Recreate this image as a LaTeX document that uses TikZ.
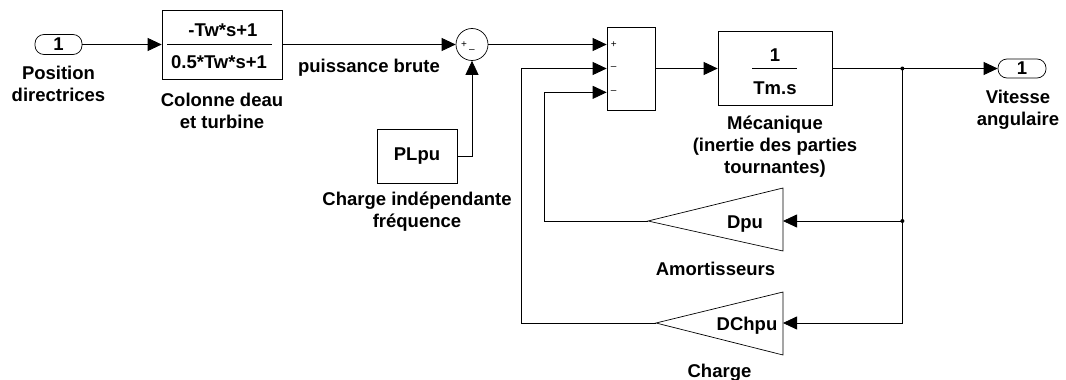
\documentclass[tikz,border=0pt]{standalone}
\usepackage{fontspec}
\setmainfont{Liberation Sans}
\usetikzlibrary{positioning,arrows.meta,calc}
\newcommand{\bfont}{\fontsize{18.5}{22}\selectfont\bfseries}
\newcommand{\lowone}{\raisebox{-3pt}{1}}
\tikzset{
  block/.style={draw, line width=0.7pt, inner sep=0pt, font=\bfont},
  port/.style={draw, rounded corners=9pt, line width=0.7pt, minimum width=47pt, minimum height=20pt, inner sep=0pt, font=\bfont},
  lbl/.style={align=center, inner sep=0pt, font=\bfont},
  sgn/.style={inner sep=0pt, font=\fontsize{10}{10}\selectfont},
  sig/.style={-{Triangle[length=14pt,width=13pt]}, line width=0.8pt},
  wire/.style={line width=0.8pt},
}

\begin{document}
\begin{tikzpicture}[x=1pt, y=1pt]
    \useasboundingbox (0,0) rectangle (1066,-380);
    % forward path
    \node[port] (in1) at (58.5,-44.5) {\lowone};
    \node[lbl, below=11pt of in1] (in1lbl) {Position\\directrices};
    \node[block, minimum width=120pt, minimum height=69pt] (tf) at (222,-44.5) {};
    \node[lbl] (tfnum) at ($(tf.center)+(1,14.5)$) {-Tw*s+1};
    \node[lbl] (tfden) at ($(tf.center)+(-3,-17.5)$) {0.5*Tw*s+1};
    \draw[line width=0.7pt] ($(tf.center)+(-55,0.5)$) -- ($(tf.center)+(50,0.5)$);
    \node[lbl, below=14pt of tf] (tflbl) {Colonne deau\\et turbine};
    \node[circle, draw, line width=0.7pt, minimum size=32pt, inner sep=0pt] (sum1) at (472,-44.5) {};
    \node[sgn] at ($(sum1.center)+(-8,-0.5)$) {+};
    \node[sgn] at ($(sum1.center)+(0,-7)$) {–};
    \node[lbl, below=14pt of $(tf.east)!0.5!(sum1.west)$] (pblbl) {puissance brute};
    \node[block, minimum width=80pt, minimum height=54pt] (pl) at (417,-156) {PLpu};
    \node[lbl, below=8pt of pl] (pllbl) {Charge indépendante\\fréquence};
    \node[block, minimum width=48pt, minimum height=83pt] (sum2) at (631,-68.5) {};
    \coordinate (s2a) at (sum1.east -| sum2.west);
    \coordinate (s2b) at (sum2.west);
    \coordinate (s2c) at ($(sum2.north west)!0.785!(sum2.south west)$);
    \node[sgn, right=4pt of s2a] {+};
    \node[sgn, right=4pt of s2b] {–};
    \node[sgn, right=4pt of s2c] {–};
    \node[block, minimum width=114pt, minimum height=74pt] (tm) at (775,-68.5) {};
    \node[lbl] (tmnum) at ($(tm.center)+(0,13.5)$) {1};
    \node[lbl] (tmden) at ($(tm.center)+(0,-19.5)$) {Tm.s};
    \draw[line width=0.7pt] ($(tm.center)+(-23,0)$) -- ($(tm.center)+(22,0)$);
    \node[lbl, below=10pt of tm] (tmlbl) {Mécanique\\(inertie des parties\\tournantes)};
    \coordinate (j1) at ($(tm.east)+(70,0)$);
    \node[port, minimum width=48pt, minimum height=19pt] (out1) at (1022,-68.5) {\lowone};
    \node[lbl, below=12pt of out1, xshift=-4pt] (out1lbl) {Vitesse\\angulaire};
    % feedback gains
    \coordinate (dpuin) at (783,-221);
    \coordinate (dpuout) at (648,-221);
    \draw[line width=0.7pt] (dpuout) -- ($(dpuin)+(0,33)$) -- ($(dpuin)+(0,-30)$) -- cycle;
    \node[lbl] (dpu) at ($(dpuin)+(-38,-3)$) {Dpu};
    \coordinate (dpubot) at ($(dpuout)!0.5!(dpuin)+(0,-30)$);
    \node[lbl, below=11pt of dpubot] (dpulbl) {Amortisseurs};
    \coordinate (dchin) at (783,-323);
    \coordinate (dchout) at (656,-323);
    \draw[line width=0.7pt] (dchout) -- ($(dchin)+(0,31)$) -- ($(dchin)+(0,-32)$) -- cycle;
    \node[lbl] (dch) at ($(dchin)+(-36,-3)$) {DChpu};
    \coordinate (dchbot) at ($(dchout)!0.5!(dchin)+(0,-32)$);
    \node[lbl, below=9pt of dchbot] (dchlbl) {Charge};
    \coordinate (j2) at (j1 |- dpuin);
    % connections
    \draw[sig] (in1) -- (tf);
    \draw[sig] (tf) -- (sum1);
    \draw[sig] (pl.east) -| (sum1.south);
    \draw[sig] (sum1) -- (s2a);
    \draw[sig] (sum2) -- (tm);
    \draw[wire] (tm) -- (j1);
    \draw[sig] (j1) -- (out1);
    \draw[wire] (j1) -- (j2);
    \draw[sig] (j2) -- (dpuin);
    \draw[sig] (j2) |- (dchin);
    \draw[sig] (dpuout) -- ++(-104,0) |- (s2c);
    \draw[sig] (dchout) -- ++(-135,0) |- (s2b);
    \fill (j1) circle (2pt);
    \fill (j2) circle (2pt);
\end{tikzpicture}
\end{document}
